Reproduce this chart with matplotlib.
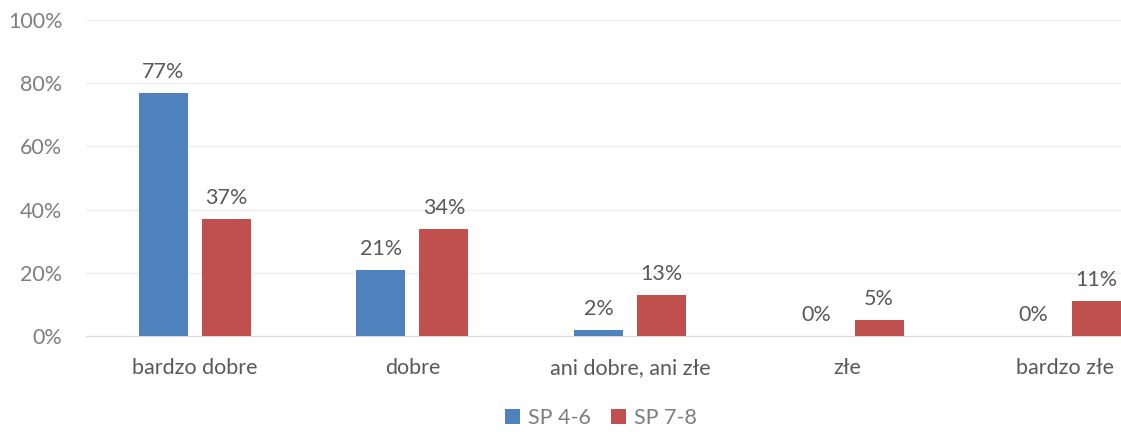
import matplotlib

matplotlib.use("Agg")
import matplotlib.pyplot as plt
import numpy as np

categories = ["bardzo dobre", "dobre", "ani dobre, ani złe", "złe", "bardzo złe"]
series_names = ["SP 4-6", "SP 7-8"]
sp_4_6 = [77, 21, 2, 0, 0]
sp_7_8 = [37, 34, 13, 5, 11]
colors = ["#4F81BD", "#C0504D"]

plt.rcParams["font.family"] = ["Lato", "DejaVu Sans"]

fig = plt.figure(figsize=(11.21, 4.32), dpi=100)
ax = fig.add_axes([86 / 1121, 1 - 336 / 432, 1 - 86 / 1121, 316 / 432])

x = np.arange(len(categories))
width = 0.225
offset = 0.145
for values, name, color, shift in zip([sp_4_6, sp_7_8], series_names, colors, [-offset, offset]):
    bars = ax.bar(x + shift, values, width, color=color, label=name, zorder=3)
    for bar, value in zip(bars, values):
        ax.text(bar.get_x() + bar.get_width() / 2, value + 3.5, f"{value}%",
                ha="center", va="bottom", fontsize=15.5, color="#595959")

ax.set_xlim(-0.5, 4.257)
ax.set_ylim(0, 100)
ax.set_yticks(range(0, 101, 20), [f"{v}%" for v in range(0, 101, 20)])
ax.set_xticks(x, categories)
ax.tick_params(axis="y", length=0, labelsize=15.5, labelcolor="#7f7f7f", pad=17)
ax.tick_params(axis="x", length=0, labelsize=15.5, labelcolor="#595959", pad=16)
ax.grid(axis="y", color="#ececec", linewidth=1, zorder=0)
for side in ["top", "right", "left"]:
    ax.spines[side].set_visible(False)
ax.spines["bottom"].set_color("#d9d9d9")

fig.legend(loc="center", bbox_to_anchor=(601 / 1121, 1 - 418 / 432), ncol=2, frameon=False,
           fontsize=15.5, labelcolor="#7f7f7f", handlelength=0.7, handleheight=0.7,
           handletextpad=0.4, columnspacing=0.9)

fig.savefig("out.png", dpi=100, facecolor="white")
